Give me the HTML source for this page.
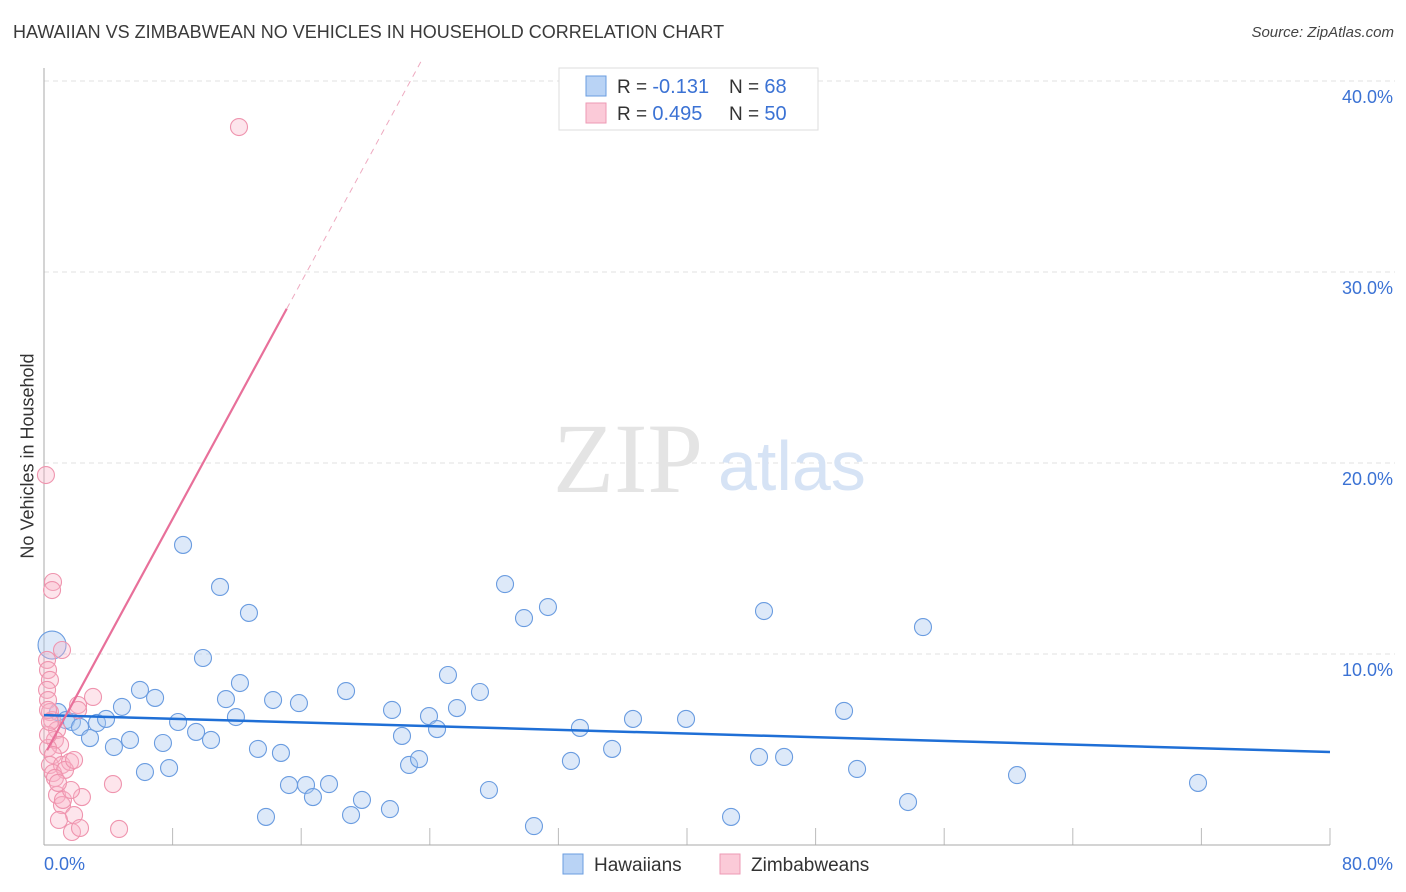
<!DOCTYPE html>
<html><head><meta charset="utf-8"><style>
body{margin:0;background:#fff;font-family:"Liberation Sans",sans-serif;}
#wrap{position:relative;width:1406px;height:892px;overflow:hidden;}
.t{position:absolute;white-space:nowrap;}
</style></head><body>
<div id="wrap">
<div class="t" style="left:13px;top:22px;font-size:18px;color:#3a3a3a;">HAWAIIAN VS ZIMBABWEAN NO VEHICLES IN HOUSEHOLD CORRELATION CHART</div>
<div class="t" style="right:12px;top:24px;font-size:15px;color:#444;font-style:italic;">Source: ZipAtlas.com</div>
<div class="t" style="left:28px;top:456px;font-size:18px;color:#333;transform:translate(-50%,-50%) rotate(-90deg);">No Vehicles in Household</div>
<svg id="svg" width="1406" height="892" style="position:absolute;left:0;top:0"></svg>
</div>
<script>
const yTicks=[10,20,30,40];
const yTickLabels=["10.0%","20.0%","30.0%","40.0%"];
const xTickLabels=["0.0%","80.0%"];
const hawX=[0.5,0.87,1.37,1.74,2.24,2.86,3.30,3.86,4.35,4.85,5.35,5.97,6.28,6.91,7.40,7.78,8.34,8.65,9.46,9.89,10.39,10.95,11.32,11.94,12.19,12.75,13.31,13.81,14.25,14.74,15.24,15.86,16.30,16.73,17.73,18.79,19.10,19.78,21.52,21.65,22.27,22.71,23.33,23.95,24.45,25.13,25.69,27.12,27.68,28.68,29.86,30.48,31.35,32.78,33.34,35.34,36.64,39.94,42.74,44.48,44.79,46.04,49.77,50.58,53.75,54.68,60.53,71.79];
const hawY=[10.47,6.96,6.54,6.44,6.18,5.60,6.39,6.60,5.13,7.23,5.50,8.12,3.82,7.70,5.34,4.03,6.44,15.71,5.92,9.79,5.50,13.51,7.64,6.70,8.48,12.15,5.03,1.47,7.59,4.82,3.14,7.43,3.14,2.51,3.19,8.06,1.57,2.36,1.88,7.07,5.71,4.19,4.50,6.75,6.07,8.90,7.17,8.01,2.88,13.66,11.88,0.99,12.46,4.40,6.13,5.03,6.60,6.60,1.47,4.61,12.25,4.61,7.02,3.98,2.25,11.41,3.66,3.25];
const zimX=[0.56,0.5,0.12,12.13,1.12,0.19,0.25,0.37,0.19,0.25,0.37,0.5,0.81,0.68,1.0,0.25,0.56,0.37,1.12,1.62,0.56,1.31,1.87,2.12,3.05,2.12,4.29,2.36,0.81,1.12,1.18,1.68,1.87,0.93,1.74,2.24,4.67,0.25,0.25,0.37,0.68,0.87];
const zimY=[13.77,13.35,19.37,37.59,10.21,9.69,9.16,8.64,8.12,7.59,6.96,6.54,6.02,5.50,5.24,5.08,4.71,4.19,4.19,4.35,3.77,3.93,4.45,7.33,7.75,7.07,3.19,2.51,2.62,2.09,2.36,2.88,1.57,1.31,0.68,0.89,0.84,7.07,5.76,6.44,3.51,3.25];
const hawTrend=[6.8,-0.0241];
const zimTrend=[4.67,1.55];
const X=v=>44+v/80*1286, Y=v=>845-v*19.1;
const svg=document.getElementById('svg');const NS='http://www.w3.org/2000/svg';
function mk(t,a,p){const e=document.createElementNS(NS,t);for(const k in a)e.setAttribute(k,a[k]);(p||svg).appendChild(e);return e;}
yTicks.forEach((v,i)=>{
 const g=mk('line',{x1:44,x2:1395,y1:Y(v),y2:Y(v),stroke:'#e0e0e0','stroke-dasharray':'5,4'});
 
 
 const t=mk('text',{x:1393,y:Y(v)+22,'text-anchor':'end','font-size':18,fill:'#3b72d4'});t.textContent=yTickLabels[i];
 
 
});
for(let i=1;i<=10;i++){const l=mk('line',{x1:X(i*8),x2:X(i*8),y1:828,y2:845,stroke:'#bbb'});
 
 }
const ax=mk('line',{x1:44,x2:44,y1:68,y2:845,stroke:'#aaa'});


const bx=mk('line',{x1:44,x2:1330,y1:845,y2:845,stroke:'#aaa'});


[[xTickLabels[0],44,'start'],[xTickLabels[1],1393,'end']].forEach(([s,x,a])=>{const t=mk('text',{x:x,y:870,'text-anchor':a,'font-size':18,fill:'#3b72d4'});t.textContent=s;
 
 });
const w1=mk('text',{x:553,y:492,'font-size':100,fill:'#e4e4e4','font-family':'Liberation Serif'});w1.textContent='ZIP';


const w2=mk('text',{x:718,y:490,'font-size':70,fill:'#d6e3f5'});w2.textContent='atlas';


hawX.forEach((x,i)=>{const c=mk('circle',{cx:X(x),cy:Y(hawY[i]),r:i==0?14:8.5,fill:'rgba(170,200,240,0.4)',stroke:'#6a9ce0','stroke-width':1.1});
 
 });
zimX.forEach((x,i)=>{const c=mk('circle',{cx:X(x),cy:Y(zimY[i]),r:8.5,fill:'rgba(248,180,200,0.35)',stroke:'#ef94ae','stroke-width':1.1});
 
 });
const hl=mk('line',{x1:X(0),y1:Y(hawTrend[0]),x2:X(80),y2:Y(hawTrend[0]+hawTrend[1]*80),stroke:'#1f6fd6','stroke-width':2.5});


const zl=mk('line',{x1:X(0.19),y1:Y(zimTrend[0]+zimTrend[1]*0.19),x2:X(15.1),y2:Y(zimTrend[0]+zimTrend[1]*15.1),stroke:'#e8709a','stroke-width':2.2});


const xe=(41-zimTrend[0])/zimTrend[1];
const zd=mk('line',{x1:X(15.1),y1:Y(zimTrend[0]+zimTrend[1]*15.1),x2:X(xe),y2:Y(41),stroke:'#eeaac0','stroke-width':1,'stroke-dasharray':'6,5'});


const lg=mk('rect',{x:559,y:68,width:259,height:62,fill:'#fff',stroke:'#ddd'});


[['#b9d3f5','#6a9ce0','-0.131','68',86],['#fbcad8','#ee9ab4','0.495','50',113]].forEach(([f,s,r,n,y],i)=>{
 const b=mk('rect',{x:586,y:y-10,width:20,height:20,fill:f,stroke:s});
 
 
 const t=mk('text',{x:617,y:y+7,'font-size':19,fill:'#333'});
 
 
 t.innerHTML='R = <tspan fill="#3b72d4" font-size="20">'+r+'</tspan><tspan x="729">N = </tspan><tspan fill="#3b72d4" font-size="20">'+n+'</tspan>';
});
[['#b9d3f5','#6a9ce0','Hawaiians',563],['#fbcad8','#ee9ab4','Zimbabweans',720]].forEach(([f,s,l,x])=>{
 const b=mk('rect',{x:x,y:854,width:20,height:20,fill:f,stroke:s});
 
 
 const t=mk('text',{x:x+31,y:871,'font-size':19,fill:'#333'});t.textContent=l;
 
 
});
</script>
</body></html>
